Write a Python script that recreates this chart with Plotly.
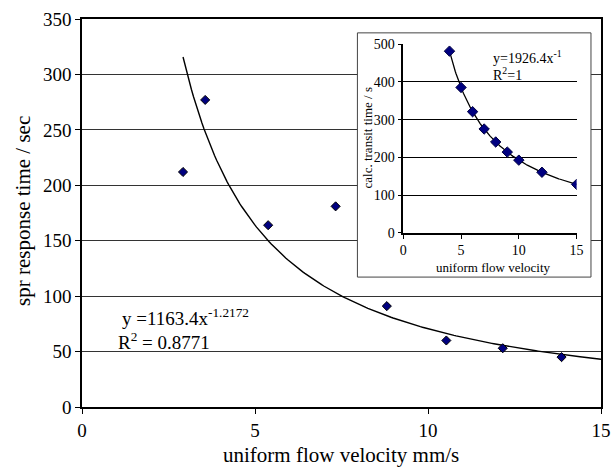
import numpy as np
import plotly.graph_objects as go

# Measured SPR response versus uniform flow velocity
velocity = [2.92, 3.56, 5.38, 7.33, 8.81, 10.53, 12.16, 13.86]
response_time = [212, 277, 164, 181, 91, 60, 53, 45]

# Power-law trendline y = a * x^b
fit_coef = 1163.4
fit_exp = -1.2172
fit_r2 = 0.8771

# Calculated transit time versus uniform flow velocity (inset)
calc_velocity = [4, 5, 6, 7, 8, 9, 10, 12, 15]
calc_transit = [481.6, 385.3, 321.1, 275.2, 240.8, 214.0, 192.6, 160.5, 128.4]
calc_coef = 1926.4
calc_exp = -1
calc_r2 = 1

main_x_ticks = [0, 5, 10, 15]
main_y_ticks = [0, 50, 100, 150, 200, 250, 300, 350]
inset_x_ticks = [0, 5, 10, 15]
inset_y_ticks = [0, 100, 200, 300, 400, 500]

FONT = "Liberation Serif, Times New Roman, serif"
NAVY = "#000080"

fit_x = np.linspace(min(velocity), 15, 200)
fit_y = fit_coef * fit_x ** fit_exp
calc_fit_x = np.linspace(min(calc_velocity), max(calc_velocity), 200)
calc_fit_y = calc_coef * calc_fit_x ** calc_exp

fig = go.Figure()

fig.add_trace(go.Scatter(
    x=fit_x, y=fit_y, mode="lines",
    line=dict(color="black", width=1.4),
    xaxis="x", yaxis="y", hoverinfo="skip",
))
fig.add_trace(go.Scatter(
    x=velocity, y=response_time, mode="markers",
    marker=dict(symbol="diamond", size=7, color=NAVY,
                line=dict(color="black", width=1)),
    xaxis="x", yaxis="y",
))

fig.add_trace(go.Scatter(
    x=calc_fit_x, y=calc_fit_y, mode="lines",
    line=dict(color="black", width=1.3),
    xaxis="x2", yaxis="y2", hoverinfo="skip",
))
fig.add_trace(go.Scatter(
    x=calc_velocity, y=calc_transit, mode="markers",
    marker=dict(symbol="diamond", size=8, color=NAVY,
                line=dict(color="#000040", width=1)),
    xaxis="x2", yaxis="y2",
))

fig.update_layout(
    width=615, height=469,
    margin=dict(l=82, r=4, t=19, b=62),
    paper_bgcolor="white", plot_bgcolor="white",
    showlegend=False,
    font=dict(family=FONT, color="black"),
    xaxis=dict(
        domain=[0, 1], range=[0, 15], tickvals=main_x_ticks,
        showgrid=False, zeroline=False,
        showline=True, mirror=True, linecolor="black", linewidth=1.5,
        ticks="outside", ticklen=5, tickcolor="black", tickwidth=1,
        tickfont=dict(size=19, family=FONT),
    ),
    yaxis=dict(
        domain=[0, 1], range=[0, 350], tickvals=main_y_ticks,
        showgrid=True, gridcolor="#333333", gridwidth=1, zeroline=False,
        showline=True, mirror=True, linecolor="black", linewidth=1.5,
        ticks="outside", ticklen=5, tickcolor="black", tickwidth=1,
        tickfont=dict(size=19, family=FONT),
    ),
    xaxis2=dict(
        domain=[0.619, 0.953], range=[0, 15], tickvals=inset_x_ticks,
        anchor="y2", showgrid=False, zeroline=False,
        showline=True, linecolor="black", linewidth=1.5,
        ticks="outside", ticklen=4, tickcolor="black", tickwidth=1,
        tickfont=dict(size=14, family=FONT),
    ),
    yaxis2=dict(
        domain=[0.449, 0.935], range=[0, 500], tickvals=inset_y_ticks,
        anchor="x2", showgrid=True, gridcolor="black", gridwidth=1,
        zeroline=False,
        showline=True, linecolor="black", linewidth=1.5,
        ticks="outside", ticklen=4, tickcolor="black", tickwidth=1,
        tickfont=dict(size=14, family=FONT),
    ),
)

# White inset panel covering the main gridlines
fig.add_shape(
    type="rect", xref="x", yref="y", layer="between",
    x0=7.96, x1=14.71, y0=117.2, y1=337.5,
    fillcolor="white", line=dict(color="#444444", width=1),
)

annotations = [
    # main axis titles
    dict(text="uniform flow velocity mm/s", xref="paper", yref="paper",
         x=0.499, y=-0.124, xanchor="center", yanchor="middle",
         showarrow=False, font=dict(size=21)),
    dict(text="spr response time / sec", xref="paper", yref="paper",
         x=-0.114, y=0.505, xanchor="center", yanchor="middle",
         textangle=-90, showarrow=False, font=dict(size=21)),
    # main trendline equation
    dict(text=f"y ={fit_coef}x<sup>{fit_exp}</sup>", xref="x", yref="y",
         x=1.1, y=81.4, xanchor="left", yanchor="middle",
         showarrow=False, font=dict(size=19)),
    dict(text=f"R<sup>2</sup> = {fit_r2}", xref="x", yref="y",
         x=0.99, y=59.5, xanchor="left", yanchor="middle",
         showarrow=False, font=dict(size=19)),
    # inset axis titles
    dict(text="uniform flow velocity", xref="paper", yref="paper",
         x=(501 - 82) / 529, y=(407 - 267.7) / 388,
         xanchor="center", yanchor="middle", showarrow=False,
         font=dict(size=13)),
    dict(text="calc. transit time / s", xref="paper", yref="paper",
         x=(373.3 - 82) / 529, y=(407 - 137.7) / 388,
         xanchor="center", yanchor="middle", textangle=-90,
         showarrow=False, font=dict(size=13)),
    # inset trendline equation
    dict(text=f"y={calc_coef}x<sup>{calc_exp}</sup>", xref="x2", yref="y2",
         x=7.6, y=466, xanchor="left", yanchor="middle",
         showarrow=False, font=dict(size=14)),
    dict(text=f"R<sup>2</sup>={calc_r2}", xref="x2", yref="y2",
         x=7.6, y=421, xanchor="left", yanchor="middle",
         showarrow=False, font=dict(size=14)),
]
fig.update_layout(annotations=annotations)

fig.write_html("out.html")
